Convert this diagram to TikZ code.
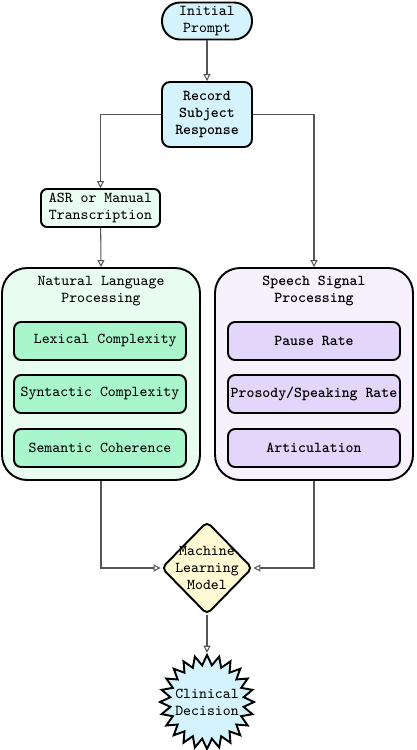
\documentclass[tikz,border=0pt]{standalone}
\usepackage{fontspec}
\usetikzlibrary{arrows.meta,positioning}
\usetikzlibrary{shapes.geometric}
\definecolor{promptblue}{HTML}{D5F3FD}
\definecolor{asrgreen}{HTML}{EAFDF3}
\definecolor{nlpbg}{HTML}{E8FDF0}
\definecolor{nlpitem}{HTML}{A9F5CC}
\definecolor{sspbg}{HTML}{F6F1FD}
\definecolor{sspitem}{HTML}{E3D6FB}
\definecolor{mlyellow}{HTML}{FFFAD4}
\definecolor{linegray}{HTML}{555555}
\tikzset{every picture/.style={/utils/exec={\ttfamily\fontsize{8.6}{9.6}\selectfont}}}

\begin{document}
\begin{tikzpicture}[x=0.02cm, y=-0.02cm]
  \tikzstyle{box} = [rectangle, draw=black, line width=1.1pt, align=center, inner sep=1pt]
  \tikzstyle{pill} = [box, fill=promptblue, minimum width=1.8cm, minimum height=0.74cm, rounded corners=0.36cm]
  \tikzstyle{group} = [box, minimum width=3.96cm, minimum height=4.24cm, rounded corners=0.5cm]
  \tikzstyle{item} = [box, minimum width=3.44cm, minimum height=0.76cm, rounded corners=0.14cm]
  \tikzstyle{arrow} = [draw=linegray, line width=0.6pt, -{Triangle[open, length=4pt, width=4pt]}]

  \useasboundingbox (0,0) rectangle (416,750);

  \node (prompt) [pill] at (207,21) {Initial\\Prompt};
  \node (record) [box, fill=promptblue, minimum width=1.8cm, minimum height=1.3cm, rounded corners=0.16cm, font=\bfseries] at (207,114.5) {Record\\Subject\\Response};
  \node (asr) [box, fill=asrgreen, minimum width=2.38cm, minimum height=0.76cm, rounded corners=0.12cm] at (100.5,208) {ASR or Manual\\Transcription};

  % left column
  \node (nlp) [group, fill=nlpbg] at (101,374) {};
  \node (nlptitle) at (101,291) [align=center] {Natural Language\\Processing};
  \node (lexical) [item, fill=nlpitem] at (100,341) {\hspace{6pt}Lexical Complexity};
  \node (syntactic) [item, fill=nlpitem] at (100,394) {Syntactic Complexity};
  \node (semantic) [item, fill=nlpitem] at (100,448) {Semantic Coherence};

  % right column
  \node (ssp) [group, fill=sspbg] at (314,374) {};
  \node (ssptitle) at (314,291) [align=center, font=\bfseries] {Speech Signal\\Processing};
  \node (pause) [item, fill=sspitem, font=\bfseries] at (314,341) {Pause Rate};
  \node (prosody) [item, fill=sspitem, font=\bfseries] at (314,394) {Prosody/Speaking Rate};
  \node (artic) [item, fill=sspitem, font=\bfseries] at (314,448) {Articulation};

  \node (model) [diamond, aspect=1, draw=black, line width=1.1pt, fill=mlyellow, minimum width=1.82cm, minimum height=1.86cm, inner sep=0pt, rounded corners=0.1cm,
    label={[align=center]center:Machine\\Learning\\Model}] at (207,568) {};
  \node (decision) [star, star points=24, star point ratio=1.27, draw=black, line width=1.1pt, fill=promptblue, minimum size=1.88cm, inner sep=0pt,
    label={[align=center]center:Clinical\\Decision}] at (207,702) {};

  \draw [arrow] (prompt) -- (record);
  \draw [arrow] (record.west) -| (asr.north);
  \draw [arrow] (record.east) -| (ssp.north);
  \draw [arrow] (asr) -- (nlp.north);
  % merge into the model
  \draw [arrow] (nlp.south) |- (model.west);
  \draw [arrow] (ssp.south) |- (model.east);
  \draw [arrow] (model) -- (decision);
\end{tikzpicture}
\end{document}
